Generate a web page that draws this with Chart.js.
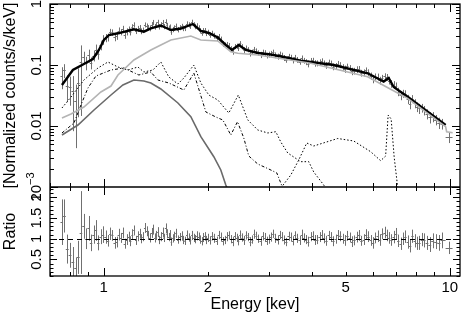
<!DOCTYPE html>
<html>
<head>
<meta charset="utf-8">
<script src="https://cdn.jsdelivr.net/npm/chart.js@4.4.1/dist/chart.umd.min.js"></script>
<style>
  html, body { margin: 0; padding: 0; background: #fff; }
  #wrap { position: relative; width: 463px; height: 316px; }
</style>
</head>
<body>
<div id="wrap"><canvas id="spec" width="463" height="316"></canvas></div>
<script>
// data bins (keV), unfolded counts, ratio to the model and its error
const dataE = [0.757, 0.77, 0.785, 0.80, 0.815, 0.83, 0.845, 0.86, 0.875, 0.89, 0.905, 0.92, 0.935, 0.95, 0.965, 0.98, 0.995,
  1.013, 1.03, 1.045, 1.06, 1.075, 1.09, 1.105, 1.12, 1.135, 1.15, 1.165, 1.18, 1.195, 1.21, 1.225, 1.24, 1.255, 1.27, 1.285, 1.30,
  1.315, 1.33, 1.345, 1.36, 1.375, 1.39, 1.405, 1.42, 1.435, 1.45, 1.465, 1.48, 1.495, 1.51, 1.525, 1.54, 1.555, 1.57, 1.585, 1.60,
  1.62, 1.64, 1.66, 1.68, 1.70, 1.72, 1.74, 1.76, 1.78, 1.80, 1.82, 1.84, 1.86, 1.88, 1.90, 1.92, 1.94, 1.96, 1.98, 2.00,
  2.03, 2.06, 2.09, 2.12, 2.15, 2.18, 2.21, 2.24, 2.27, 2.30, 2.33, 2.36, 2.39, 2.42, 2.45, 2.48, 2.515, 2.55, 2.585, 2.62,
  2.655, 2.69, 2.725, 2.76, 2.80, 2.84, 2.88, 2.92, 2.96, 3.00, 3.045, 3.09, 3.135, 3.18, 3.225, 3.27, 3.32, 3.37, 3.42, 3.47,
  3.52, 3.57, 3.625, 3.68, 3.735, 3.79, 3.845, 3.90, 3.96, 4.02, 4.08, 4.14, 4.205, 4.27, 4.335, 4.40, 4.47, 4.54, 4.61, 4.68,
  4.755, 4.83, 4.905, 4.98,
  5.06, 5.14, 5.22, 5.30, 5.385, 5.47, 5.555, 5.64, 5.73, 5.82, 5.91, 6.00, 6.095, 6.19, 6.285, 6.38, 6.48, 6.58, 6.68, 6.78,
  6.885, 6.99, 7.10, 7.21, 7.325, 7.44, 7.56, 7.68, 7.80, 7.92, 8.045, 8.17, 8.30, 8.43, 8.59, 8.75, 8.92, 9.10, 9.30, 9.50, 9.95];
const dataF = [0.066, 0.082, 0.046, 0.043, 0.037, 0.026, 0.051, 0.112, 0.134, 0.109, 0.144, 0.109, 0.143, 0.179, 0.153, 0.210, 0.261,
  0.279, 0.285, 0.345, 0.342, 0.290, 0.301, 0.366, 0.347, 0.394, 0.311, 0.352, 0.384, 0.350, 0.417, 0.455, 0.363, 0.393, 0.409, 0.359, 0.372,
  0.455, 0.435, 0.410, 0.400, 0.456, 0.499, 0.424, 0.457, 0.499, 0.425, 0.456, 0.496, 0.428, 0.513, 0.447, 0.405, 0.420, 0.350, 0.383, 0.405,
  0.435, 0.381, 0.411, 0.429, 0.400, 0.402, 0.472, 0.457, 0.436, 0.502, 0.458, 0.429, 0.439, 0.408, 0.366, 0.337, 0.364, 0.369, 0.332, 0.344,
  0.312, 0.333, 0.304, 0.275, 0.295, 0.264, 0.222, 0.212, 0.216, 0.210, 0.185, 0.167, 0.201, 0.204, 0.192, 0.226, 0.200, 0.176, 0.191, 0.179,
  0.156, 0.162, 0.180, 0.171, 0.158, 0.147, 0.163, 0.158, 0.143, 0.149, 0.154, 0.164, 0.145, 0.138, 0.152, 0.144, 0.131, 0.122, 0.138, 0.133,
  0.120, 0.134, 0.122, 0.114, 0.129, 0.118, 0.112, 0.105, 0.118, 0.119, 0.107, 0.107, 0.111, 0.117, 0.106, 0.099, 0.111, 0.106, 0.094, 0.097,
  0.105, 0.100, 0.092, 0.086,
  0.0947, 0.0893, 0.0791, 0.0799, 0.0846, 0.0858, 0.0739, 0.0747, 0.0815, 0.0756, 0.0662, 0.0594, 0.0644, 0.0639, 0.0560, 0.0617, 0.0652, 0.0630, 0.0556, 0.0494,
  0.0475, 0.0459, 0.0366, 0.0319, 0.0341, 0.0337, 0.0276, 0.0230, 0.0279, 0.0235, 0.0206, 0.0194, 0.0198, 0.0181, 0.0158, 0.0139, 0.0142, 0.0127, 0.0113, 0.0109, 0.0065];
const ratio = [1.40, 1.55, 0.75, 0.60, 0.45, 0.30, 0.55, 1.15, 1.30, 1.00, 1.25, 0.90, 1.10, 1.20, 0.90, 1.05, 1.10,
  1.04, 0.95, 1.12, 1.08, 0.90, 0.92, 1.10, 1.02, 1.14, 0.88, 0.98, 1.05, 0.94, 1.10, 1.20, 0.96, 1.06, 1.12, 1.00, 1.05,
  1.26, 1.18, 1.08, 1.02, 1.14, 1.22, 1.02, 1.08, 1.16, 0.97, 1.05, 1.15, 1.02, 1.25, 1.12, 1.04, 1.10, 0.93, 1.01, 1.06,
  1.13, 0.98, 1.04, 1.07, 0.97, 0.95, 1.09, 1.03, 0.96, 1.08, 1.02, 0.99, 1.07, 1.05, 0.98, 0.94, 1.03, 1.06, 0.97, 1.02,
  0.96, 1.06, 1.01, 0.95, 1.09, 1.04, 0.94, 0.97, 1.05, 1.08, 0.99, 0.93, 1.06, 1.02, 0.95, 1.10, 1.03, 0.96, 1.08, 1.04,
  0.93, 0.98, 1.11, 1.07, 1.00, 0.94, 1.06, 1.03, 0.95, 0.99, 1.04, 1.12, 1.01, 0.97, 1.09, 1.05, 0.97, 0.92, 1.06, 1.04,
  0.95, 1.08, 1.01, 0.96, 1.10, 1.02, 0.98, 0.93, 1.05, 1.07, 0.97, 0.98, 1.04, 1.10, 1.01, 0.95, 1.08, 1.04, 0.94, 0.99,
  1.09, 1.06, 1.00, 0.96,
  1.07, 1.03, 0.93, 0.96, 1.04, 1.08, 0.95, 0.98, 1.10, 1.05, 0.96, 0.90, 1.02, 1.06, 0.97, 1.12, 1.15, 1.08, 1.02, 0.97,
  1.04, 1.12, 0.95, 0.88, 1.00, 1.05, 0.92, 0.82, 1.06, 0.95, 0.89, 0.90, 0.98, 0.96, 0.90, 0.86, 0.95, 0.93, 0.90, 0.96, 0.78];
const ratioErr = [0.55, 0.40, 0.35, 0.30, 0.35, 0.25, 0.40, 1.00, 0.30, 0.25, 0.30, 0.20, 0.22, 0.25, 0.18, 0.18, 0.20,
  0.16, 0.14, 0.15, 0.13, 0.14, 0.13, 0.14, 0.12, 0.13, 0.12, 0.13, 0.12, 0.12, 0.13, 0.12, 0.11, 0.12, 0.12, 0.11, 0.11,
  0.12, 0.12, 0.11, 0.11, 0.12, 0.12, 0.11, 0.11, 0.12, 0.10, 0.11, 0.12, 0.10, 0.12, 0.11, 0.10, 0.11, 0.10, 0.10, 0.11,
  0.11, 0.10, 0.10, 0.11, 0.10, 0.10, 0.11, 0.10, 0.10, 0.11, 0.10, 0.10, 0.11, 0.10, 0.10, 0.10, 0.11, 0.10, 0.10, 0.10,
  0.10, 0.10, 0.11, 0.10, 0.10, 0.11, 0.10, 0.10, 0.11, 0.10, 0.10, 0.11, 0.10, 0.10, 0.11, 0.10, 0.10, 0.11, 0.10, 0.10,
  0.11, 0.10, 0.11, 0.10, 0.10, 0.11, 0.10, 0.11, 0.10, 0.11, 0.11, 0.10, 0.11, 0.11, 0.10, 0.11, 0.11, 0.10, 0.11, 0.11,
  0.11, 0.10, 0.11, 0.11, 0.12, 0.11, 0.11, 0.12, 0.11, 0.11, 0.12, 0.11, 0.12, 0.11, 0.12, 0.12, 0.11, 0.12, 0.12, 0.11,
  0.12, 0.12, 0.12, 0.13,
  0.12, 0.12, 0.13, 0.12, 0.13, 0.13, 0.12, 0.13, 0.13, 0.13, 0.13, 0.14, 0.13, 0.14, 0.14, 0.13, 0.14, 0.14, 0.14, 0.14,
  0.15, 0.14, 0.15, 0.15, 0.15, 0.15, 0.16, 0.15, 0.16, 0.16, 0.16, 0.17, 0.16, 0.17, 0.17, 0.18, 0.18, 0.18, 0.19, 0.19, 0.15];

// total model (thick black)
const modelE = [0.758, 0.815, 0.877, 0.931, 0.969, 1.002, 1.036, 1.100, 1.223, 1.307, 1.369, 1.463, 1.564, 1.672, 1.810, 1.909, 2.013, 2.137, 2.254, 2.346, 2.458, 2.574, 2.788, 3.040, 3.314, 3.710, 3.966, 4.620, 5.791, 6.441, 6.659, 6.884, 7.553, 8.630, 9.725];
const modelF = [0.0470, 0.0828, 0.1038, 0.1254, 0.1761, 0.2569, 0.3102, 0.3309, 0.3848, 0.3515, 0.3996, 0.4441, 0.3748, 0.3966, 0.4700, 0.3608, 0.3346, 0.2823, 0.2128, 0.1761, 0.2128, 0.1761, 0.1573, 0.1486, 0.1352, 0.1176, 0.1120, 0.1000, 0.0731, 0.0536, 0.0612, 0.0436, 0.0302, 0.0172, 0.0104];

// continuum (light grey)
const contE = [0.758, 0.805, 0.877, 0.982, 1.050, 1.100, 1.223, 1.369, 1.463, 1.564, 1.786, 1.909, 2.137, 2.330, 2.441, 2.788, 3.966, 5.791, 6.747, 7.553, 8.630, 9.725, 9.790, 10.19];
const contF = [0.01352, 0.01573, 0.02049, 0.0361, 0.0452, 0.0686, 0.1208, 0.1761, 0.2128, 0.2569, 0.2988, 0.2569, 0.2474, 0.1652, 0.1555, 0.1458, 0.1066, 0.0643, 0.0400, 0.02844, 0.01615, 0.00974, 0.00806, 0.00777];

// soft component (dark grey)
const softE = [0.758, 0.843, 0.938, 1.050, 1.137, 1.223, 1.307, 1.369, 1.463, 1.639, 1.786, 1.909, 2.081, 2.180, 2.254, 2.284];
const softF = [0.00712, 0.01038, 0.0183, 0.03223, 0.0470, 0.05676, 0.05466, 0.0507, 0.04043, 0.02382, 0.01421, 0.00668, 0.003138, 0.0019, 0.001078, 0.000893];

// line components
const lineAE = [0.758, 0.805, 0.877, 0.963, 1.029, 1.100, 1.175, 1.256, 1.307, 1.388, 1.463, 1.543, 1.639, 1.705, 1.822, 1.909, 2.013, 2.137, 2.299, 2.449, 2.609, 2.788, 2.980, 3.143, 3.249, 3.403, 3.710, 3.913, 4.045, 4.323, 4.410];
const lineAF = [0.01973, 0.02988, 0.05676, 0.0893, 0.1120, 0.0927, 0.0828, 0.0927, 0.0768, 0.0828, 0.1120, 0.0636, 0.0488, 0.0612, 0.1000, 0.0507, 0.0322, 0.0267, 0.01634, 0.0322, 0.01254, 0.0086, 0.00768, 0.00806, 0.00547, 0.00361, 0.0026, 0.0026, 0.00176, 0.001078, 0.00089];
const lineBE = [0.758, 0.821, 0.860, 0.901, 0.950, 1.050, 1.144, 1.264, 1.369, 1.434, 1.543, 1.705, 1.822, 1.974, 2.109, 2.210, 2.330, 2.436, 2.540, 2.626, 2.788, 3.000, 3.164, 3.292];
const lineBF = [0.00768, 0.0112, 0.0221, 0.042, 0.066, 0.0828, 0.0893, 0.0686, 0.0768, 0.0568, 0.0507, 0.0389, 0.0739, 0.01697, 0.01405, 0.01254, 0.00712, 0.01176, 0.00636, 0.00322, 0.00238, 0.00197, 0.0017, 0.00096];
const lineCE = [3.249, 3.472, 3.661, 3.861, 4.045, 4.745, 5.277, 5.907, 6.312, 6.525, 6.634, 6.769, 6.906, 7.068];
const lineCF = [0.00096, 0.00157, 0.00277, 0.00526, 0.0047, 0.00624, 0.00568, 0.00379, 0.0027, 0.00322, 0.01515, 0.01302, 0.0031, 0.001];

// tick labels
const xTickVals = [1, 2, 5, 10];
const xTickText = ['1', '2', '5', '10'];
const yTickVals = [1, 0.1, 0.01];
const yTickText = ['1', '0.1', '0.01'];
const rTickVals = [0.5, 1, 1.5, 2];
const rTickText = ['0.5', '1', '1.5', '2'];

const FONT = '"Liberation Sans", Arial, sans-serif';
const DATA_GREY = '#707070';

const pts = (xs, ys) => xs.map((x, i) => ({ x, y: ys[i] }));
const curve = (xs, ys, color, width, dash) => ({
  data: pts(xs, ys), yAxisID: 'y', showLine: true, borderColor: color,
  borderWidth: width, borderDash: dash || [], pointRadius: 0, fill: false
});

// error bars: bin width horizontally, +-error vertically
function drawBars(ctx, xs, ys, E, V, errAt, color) {
  const n = E.length;
  ctx.save();
  ctx.beginPath();
  ctx.rect(xs.left, ys.top, xs.right - xs.left, ys.bottom - ys.top);
  ctx.clip();
  ctx.strokeStyle = color;
  ctx.lineWidth = 1;
  ctx.beginPath();
  for (let i = 0; i < n; i++) {
    const lo = i > 0 ? Math.sqrt(E[i - 1] * E[i]) : E[i] * E[i] / Math.sqrt(E[i] * E[i + 1]);
    const hi = i < n - 1 ? Math.sqrt(E[i] * E[i + 1]) : E[i] * E[i] / Math.sqrt(E[i - 1] * E[i]);
    const err = errAt(i);
    const px = Math.round(xs.getPixelForValue(E[i])) + 0.5;
    const py = Math.round(ys.getPixelForValue(V[i])) + 0.5;
    const low = V[i] - err;
    const yLo = low > ys.min ? ys.getPixelForValue(low) : ys.bottom;
    const yHi = ys.getPixelForValue(V[i] + err);
    ctx.moveTo(xs.getPixelForValue(lo), py);
    ctx.lineTo(xs.getPixelForValue(hi), py);
    ctx.moveTo(px, yLo);
    ctx.lineTo(px, yHi);
  }
  ctx.stroke();
  ctx.restore();
}

function rotText(ctx, text, x, y) {
  ctx.save();
  ctx.translate(x, y);
  ctx.rotate(-Math.PI / 2);
  ctx.fillText(text, 0, 0);
  ctx.restore();
}

const frame = {
  id: 'frame',
  beforeDatasetsDraw(chart) {
    const { ctx, scales } = chart;
    // relative error of the spectrum is the same as that of the ratio
    drawBars(ctx, scales.x, scales.y, dataE, dataF, i => dataF[i] * ratioErr[i] / ratio[i], DATA_GREY);
    drawBars(ctx, scales.x, scales.y2, dataE, ratio, i => ratioErr[i], DATA_GREY);
    const y1 = Math.round(scales.y2.getPixelForValue(1)) + 0.5;
    ctx.save();
    ctx.strokeStyle = '#000';
    ctx.lineWidth = 1;
    ctx.setLineDash([5, 4]);
    ctx.beginPath();
    ctx.moveTo(scales.x.left, y1);
    ctx.lineTo(scales.x.right, y1);
    ctx.stroke();
    ctx.restore();
  },
  beforeDatasetDraw(chart, args) {
    const s = args.meta.yScale, x = args.meta.xScale, ctx = chart.ctx;
    ctx.save();
    ctx.beginPath();
    ctx.rect(x.left, s.top, x.right - x.left, s.bottom - s.top);
    ctx.clip();
  },
  afterDatasetDraw(chart) {
    chart.ctx.restore();
  },
  afterDraw(chart) {
    const { ctx, scales: { x, y, y2 } } = chart;
    const L = x.left, R = x.right;
    ctx.save();
    ctx.strokeStyle = '#000';
    ctx.lineWidth = 1.3;
    ctx.strokeRect(L, y.top, R - L, y2.bottom - y.top);
    ctx.beginPath();
    ctx.moveTo(L, y.bottom);
    ctx.lineTo(R, y.bottom);
    ctx.stroke();

    ctx.lineWidth = 1;
    ctx.beginPath();
    // energy ticks, top and bottom of both panels
    for (const d of [0.1, 1, 10]) {
      for (let m = 1; m <= 9; m++) {
        const v = m * d;
        if (v < x.min || v > x.max) continue;
        const px = Math.round(x.getPixelForValue(v)) + 0.5;
        const len = m === 1 ? 8 : 4;
        for (const s of [y, y2]) {
          ctx.moveTo(px, s.top); ctx.lineTo(px, s.top + len);
          ctx.moveTo(px, s.bottom); ctx.lineTo(px, s.bottom - len);
        }
      }
    }
    // flux ticks
    for (const d of [0.001, 0.01, 0.1, 1]) {
      for (let m = 1; m <= 9; m++) {
        const v = m * d;
        if (v > y.max * 1.0001) continue;
        const py = Math.round(y.getPixelForValue(v)) + 0.5;
        const len = m === 1 ? 8 : 4;
        ctx.moveTo(L, py); ctx.lineTo(L + len, py);
        ctx.moveTo(R, py); ctx.lineTo(R - len, py);
      }
    }
    // ratio ticks
    for (let k = 1; k <= 22; k++) {
      const v = k / 10;
      if (v < y2.min || v > y2.max) continue;
      const py = Math.round(y2.getPixelForValue(v)) + 0.5;
      const len = k % 5 === 0 ? 7 : 3.5;
      ctx.moveTo(L, py); ctx.lineTo(L + len, py);
      ctx.moveTo(R, py); ctx.lineTo(R - len, py);
    }
    ctx.stroke();

    ctx.fillStyle = '#000';
    ctx.font = '15px ' + FONT;
    ctx.textAlign = 'center';
    ctx.textBaseline = 'middle';
    xTickVals.forEach((v, i) => ctx.fillText(xTickText[i], x.getPixelForValue(v), x.top + 12));
    yTickVals.forEach((v, i) => rotText(ctx, yTickText[i], 37, y.getPixelForValue(v)));
    rTickVals.forEach((v, i) => rotText(ctx, rTickText[i], 37, y2.getPixelForValue(v)));

    // 10^-3 label
    ctx.save();
    ctx.translate(37, y.getPixelForValue(0.001));
    ctx.rotate(-Math.PI / 2);
    ctx.textAlign = 'left';
    const w1 = ctx.measureText('10').width;
    ctx.font = '11px ' + FONT;
    const w2 = ctx.measureText('\u22123').width;
    ctx.fillText('\u22123', -(w1 + w2) / 2 + w1, -6);
    ctx.font = '15px ' + FONT;
    ctx.fillText('10', -(w1 + w2) / 2, 0);
    ctx.restore();

    ctx.font = '16px ' + FONT;
    rotText(ctx, '[Normalized counts/s/keV]', 11, (y.top + y.bottom) / 2);
    rotText(ctx, 'Ratio', 11, (y2.top + y2.bottom) / 2);
    ctx.fillText('Energy [kev]', (L + R) / 2, 305);
    ctx.restore();
  }
};

const hidden = { grid: { display: false }, ticks: { display: false }, border: { display: false } };

new Chart(document.getElementById('spec'), {
  type: 'scatter',
  data: {
    datasets: [
      curve(softE, softF, '#6a6a6a', 1.6),
      curve(contE, contF, '#b4b4b4', 1.6),
      curve(lineAE, lineAF, '#000', 1, [1.5, 2]),
      curve(lineBE, lineBF, '#000', 1, [3, 2, 1, 2]),
      curve(lineCE, lineCF, '#000', 1, [1.5, 2]),
      curve(modelE, modelF, '#000', 2.4)
    ]
  },
  options: {
    responsive: false,
    animation: false,
    events: [],
    layout: { padding: { top: 4, right: 3, left: 0, bottom: 0 } },
    plugins: { legend: { display: false }, tooltip: { enabled: false } },
    scales: {
      x: { type: 'logarithmic', min: 0.705, max: 10.7, position: 'bottom', ...hidden,
           afterFit: s => { s.height = 40; } },
      // ratio panel is listed first so that it is stacked below the spectrum
      y2: { type: 'linear', min: 0.1, max: 2.25, position: 'left', stack: 'panels', stackWeight: 89, ...hidden,
            afterFit: s => { s.width = 50; } },
      y: { type: 'logarithmic', min: 0.001, max: 1, position: 'left', stack: 'panels', stackWeight: 183, ...hidden,
           afterFit: s => { s.width = 50; } }
    }
  },
  plugins: [frame]
});
</script>
</body>
</html>
